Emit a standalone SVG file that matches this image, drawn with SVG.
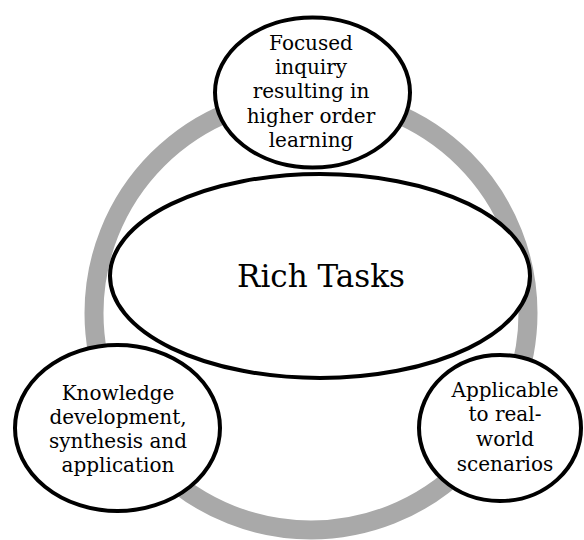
<svg xmlns="http://www.w3.org/2000/svg" width="584" height="540" viewBox="0 0 584 540">
  <style>
    .node ellipse { fill: #ffffff; stroke: #000000; stroke-width: 4; }
    .node text { font-family: "DejaVu Serif", "Liberation Serif", serif; font-size: 20px; fill: #000000; text-anchor: middle; }
    #rich-tasks text { font-size: 31px; }
    .cycle { fill: none; stroke: #a9a9a9; stroke-width: 19; }
  </style>
  <rect width="584" height="540" fill="#ffffff"/>

  <!-- connectors: the grey cycle linking the three outer nodes -->
  <g id="connectors">
    <circle class="cycle" cx="311" cy="313" r="217"/>
  </g>

  <g id="rich-tasks" class="node">
    <ellipse cx="320" cy="276" rx="210" ry="102"/>
    <text x="321" y="287">Rich Tasks</text>
  </g>

  <g id="focused-inquiry" class="node">
    <ellipse cx="312.5" cy="92.5" rx="97.5" ry="75"/>
    <text x="311" y="50">Focused</text>
    <text x="311" y="74.2">inquiry</text>
    <text x="311" y="98.4">resulting in</text>
    <text x="311" y="122.6">higher order</text>
    <text x="311" y="146.8">learning</text>
  </g>

  <g id="knowledge-development" class="node">
    <ellipse cx="117.5" cy="428" rx="102.5" ry="83"/>
    <text x="118" y="400">Knowledge</text>
    <text x="118" y="424">development,</text>
    <text x="118" y="448">synthesis and</text>
    <text x="118" y="472">application</text>
  </g>

  <g id="real-world" class="node">
    <ellipse cx="500" cy="428" rx="81" ry="73"/>
    <text x="505" y="396.5">Applicable</text>
    <text x="505" y="421">to real-</text>
    <text x="505" y="446">world</text>
    <text x="505" y="470.5">scenarios</text>
  </g>
</svg>
